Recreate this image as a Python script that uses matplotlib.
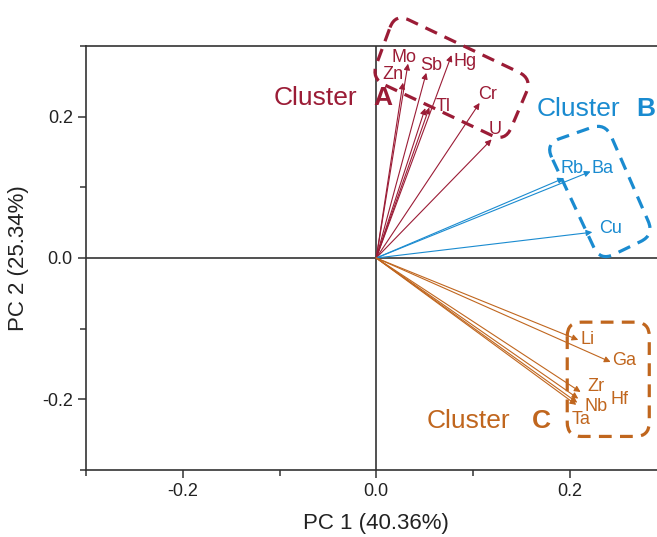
import numpy as np
import matplotlib
matplotlib.use('Agg')
import matplotlib.pyplot as plt
from matplotlib.path import Path
from matplotlib.patches import PathPatch
from matplotlib.transforms import IdentityTransform

plt.rcParams['font.family'] = ['Liberation Sans', 'DejaVu Sans']
plt.rcParams['axes.unicode_minus'] = False

# loadings (PC1, PC2) per element, grouped by cluster
elemA = ['Mo', 'Zn', 'Sb', 'Hg', 'Tl', '', 'Cr', 'U']
pc1A = [0.0328, 0.0276, 0.0517, 0.0778, 0.0548, 0.0506, 0.1068, 0.1192]
pc2A = [0.275, 0.248, 0.262, 0.287, 0.213, 0.212, 0.2194, 0.1678]

elemB = ['Rb', 'Ba', 'Cu']
pc1B = [0.194, 0.2215, 0.2233]
pc2B = [0.113, 0.1224, 0.0365]

elemC = ['Li', 'Ga', 'Zr', 'Hf', 'Nb', 'Ta']
pc1C = [0.2088, 0.2422, 0.2112, 0.2088, 0.2078, 0.2067]
pc2C = [-0.1159, -0.1471, -0.1896, -0.1990, -0.2047, -0.2078]

colA = '#9b1c36'
colB = '#1a8bd0'
colC = '#c0661e'

# label positions (data coords)
labA = [(0.0286, 0.2837), (0.0168, 0.260), (0.0568, 0.2728), (0.0917, 0.2776),
        (0.0696, 0.2138), None, (0.1147, 0.2312), (0.1233, 0.182)]
labB = [(0.2019, 0.1272), (0.2343, 0.1262), (0.2422, 0.0411)]
labC = [(0.2188, -0.1159), (0.2563, -0.1457), (0.2267, -0.182), (0.2515, -0.2),
        (0.2271, -0.2104), (0.2112, -0.2284)]

fig = plt.figure(figsize=(6.57, 5.37), dpi=100)
ax = fig.add_axes([86/657, 67/537, 580.5/657, 424/537])
ax.set_xlim(-0.3, 0.3)
ax.set_ylim(-0.3, 0.3)

for s in ['top', 'bottom', 'left', 'right']:
    ax.spines[s].set_color('#333333')
    ax.spines[s].set_linewidth(1.2)
ax.axhline(0, color='#333333', lw=1.2, zorder=1)
ax.axvline(0, color='#333333', lw=1.2, zorder=1)

ax.set_xticks([-0.2, 0.0, 0.2])
ax.set_yticks([-0.2, 0.0, 0.2])
ax.set_xticks([-0.3, -0.1, 0.1, 0.3], minor=True)
ax.set_yticks([-0.3, -0.1, 0.1, 0.3], minor=True)
ax.tick_params(which='major', direction='out', length=6, width=1.1, color='#333333',
               labelsize=13, labelcolor='#222222')
ax.tick_params(which='minor', direction='out', length=4, width=1.1, color='#333333')
ax.set_xlabel('PC 1 (40.36%)', fontsize=16, color='#222222', labelpad=9)
ax.set_ylabel('PC 2 (25.34%)', fontsize=16, color='#222222', labelpad=9)


def arrows(xs, ys, names, labs, col):
    for x, y, n, p in zip(xs, ys, names, labs):
        ax.annotate('', xy=(x, y), xytext=(0, 0),
                    arrowprops=dict(arrowstyle='-|>', color=col, lw=0.8,
                                    mutation_scale=9, shrinkA=0, shrinkB=0))
        if p is not None and n:
            ax.text(p[0], p[1], n, color=col, fontsize=13, ha='center', va='center')


arrows(pc1A, pc2A, elemA, labA, colA)
arrows(pc1B, pc2B, elemB, labB, colB)
arrows(pc1C, pc2C, elemC, labC, colC)

# cluster titles
for xr, xl, y, let, col in [(-0.0196, -0.003, 0.227, 'A', colA),
                            (0.2525, 0.2683, 0.2113, 'B', colB),
                            (0.1385, 0.1612, -0.231, 'C', colC)]:
    ax.text(xr, y, 'Cluster', color=col, fontsize=19, ha='right', va='center')
    ax.text(xl, y, let, color=col, fontsize=19, fontweight='bold', ha='left', va='center',
            clip_on=False)


def rounded_box(corners, col, r=15):
    pts = ax.transData.transform(np.array(corners))
    n = len(pts)
    verts, codes = [], []
    for i in range(n):
        p = pts[i]
        pa = pts[i - 1]
        pb = pts[(i + 1) % n]
        ua = (pa - p) / np.linalg.norm(pa - p)
        ub = (pb - p) / np.linalg.norm(pb - p)
        a = p + r * ua
        b = p + r * ub
        verts += [a, p, b]
        codes += [Path.MOVETO if i == 0 else Path.LINETO, Path.CURVE3, Path.CURVE3]
    verts.append(verts[0])
    codes.append(Path.LINETO)
    patch = PathPatch(Path(verts, codes), fill=False, edgecolor=col, lw=2.3,
                      linestyle=(0, (4, 2.6)), transform=IdentityTransform())
    fig.add_artist(patch)


rounded_box([(0.0196, 0.3461), (0.1612, 0.2539), (0.1333, 0.1645), (-0.0052, 0.2539)], colA)
rounded_box([(0.1747, 0.1617), (0.2367, 0.1915), (0.2873, 0.0326), (0.2315, -0.0043)], colB)
rounded_box([(0.1974, -0.0908), (0.2822, -0.0908), (0.2822, -0.2525), (0.1974, -0.2525)], colC, r=14)

fig.savefig('out.png', dpi=100)
